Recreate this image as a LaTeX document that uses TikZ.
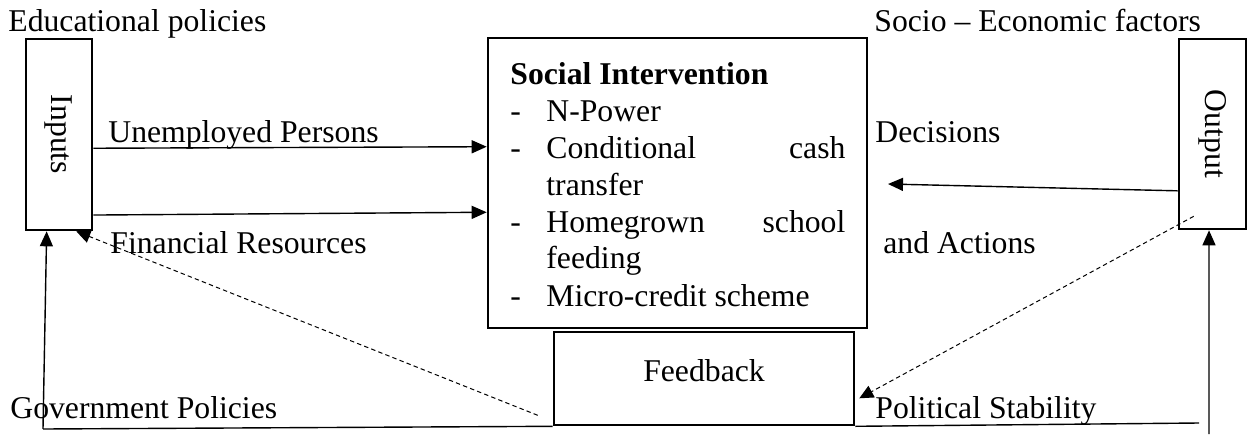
\documentclass[tikz,border=0pt]{standalone}
\usepackage{fontspec}
\setmainfont{Liberation Serif}
\usetikzlibrary{arrows.meta,calc}
\begin{document}
\begin{tikzpicture}[x=0.5pt,y=-0.5pt,
  font=\fontsize{15.85}{19}\selectfont,
  box/.style={draw,line width=1.3pt,inner sep=0pt},
  lbl/.style={anchor=base west,inner sep=0pt},
  flow/.style={line width=0.7pt,-{Triangle[length=7.5pt,width=6.5pt]}},
  loopback/.style={line width=0.5pt,dash pattern=on 2.2pt off 1.6pt,-{Triangle[length=7pt,width=6.5pt]}},
  plain/.style={line width=0.7pt}]
\useasboundingbox (0,0) rectangle (1248,434);

% main boxes
\node[box,minimum width=33pt,minimum height=95.5pt] (in) at (59,134.5) {};
\node[rotate=-90] (inT) at (in.center) {Inputs};
\node[box,minimum width=33.5pt,minimum height=95pt] (out) at (1212.5,134) {};
\node[rotate=-90] (outT) at (out.center) {Output};
\node[box,minimum width=189.5pt,minimum height=145pt] (si) at (677.5,183) {};
\node[box,minimum width=150pt,minimum height=46.5pt] (fb) at (704,378.5) {};
\node[anchor=base,inner sep=0pt] (fbT) at (704,381) {Feedback};

% content of the intervention box
\node[lbl,font=\fontsize{15.85}{19}\selectfont\bfseries] (sih) at (510,84) {Social Intervention};
\node[lbl] (d1) at (510,121) {-};
\node[lbl] (d2) at (510,158) {-};
\node[lbl] (d3) at (510,232) {-};
\node[lbl] (d4) at (510,306) {-};
\node[lbl] (i1) at (546,121) {N-Power};
\node[lbl] (i2) at (546,158) {\hbox to 149.5pt{Conditional\hfill cash}};
\node[lbl] (i3) at (546,195) {transfer};
\node[lbl] (i4) at (546,232) {\hbox to 149.5pt{Homegrown\hfill school}};
\node[lbl] (i5) at (546,268) {feeding};
\node[lbl] (i6) at (546,306) {Micro-credit scheme};

% free labels
\node[lbl] (ep) at (8,31) {Educational policies};
\node[lbl] (se) at (874,31) {Socio – Economic factors};
\node[lbl] (up) at (108,142) {Unemployed Persons};
\node[lbl] (fr) at (110,253) {Financial Resources};
\node[lbl] (dc) at (875,142) {Decisions};
\node[lbl] (aa) at (883,253) {and Actions};
\node[lbl] (gp) at (10,418) {Government Policies};
\node[lbl] (ps) at (875,418) {Political Stability};

% free ends of connectors
\coordinate (dtip) at (888,184);
\coordinate (gl) at (43,429);
\coordinate (pr) at (1199,423);
\coordinate (gr) at (1209,434);

% inputs to intervention
\draw[flow] ($(in.north east)!0.571!(in.south east)$) -- ($(si.north west)!0.376!(si.south west)$);
\draw[flow] ($(in.north east)!0.916!(in.south east)$) -- ($(si.north west)!0.6!(si.south west)$);
% decisions and actions
\draw[flow] ($(out.north west)!0.795!(out.south west)$) -- (dtip);
% feedback loops
\draw[loopback] ($(out.south west)+(16,-14)$) -- ($(fb.south east)+(4,-28)$);
\draw[loopback] ($(fb.south west)+(-15,-11)$) -- ($(in.south east)+(-17,0)$);
% environment line along the bottom
\draw[plain] (gl) -- (fb.south west);
\draw[plain] (fb.south east) -- (pr);
\draw[flow] (gl) -- ($(in.south west)!0.32!(in.south east)$);
\draw[flow] (gr) -- ($(out.south west)!0.45!(out.south east)$);
\end{tikzpicture}
\end{document}
